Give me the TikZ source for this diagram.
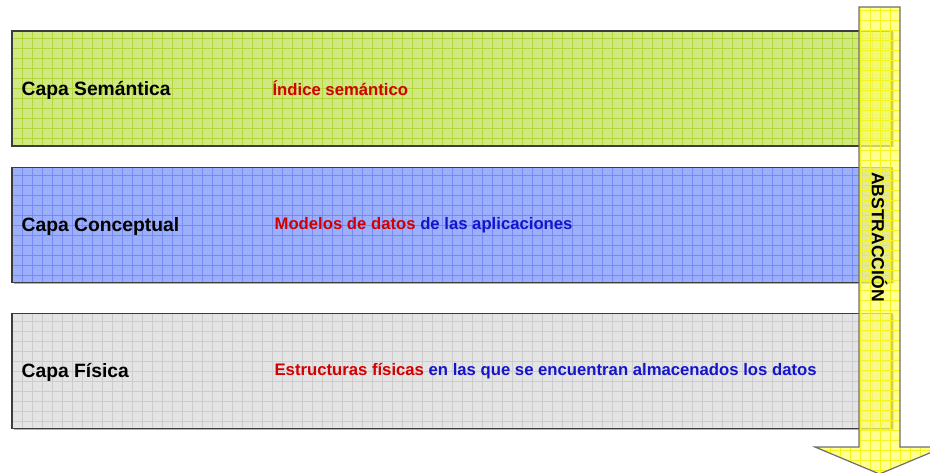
\documentclass[tikz,border=0pt]{standalone}
\usepackage{fontspec}
\setmainfont{Liberation Sans}
\usetikzlibrary{positioning,shadows}

\definecolor{verdefondo}{RGB}{208,232,130}
\definecolor{verdelinea}{RGB}{178,214,60}
\definecolor{azulfondo}{RGB}{155,175,250}
\definecolor{azullinea}{RGB}{118,138,242}
\definecolor{grisfondo}{RGB}{228,228,228}
\definecolor{grislinea}{RGB}{204,204,204}
\definecolor{amarillofondo}{RGB}{255,255,110}
\definecolor{amarillolinea}{RGB}{245,245,30}
\definecolor{rojotexto}{RGB}{210,0,0}
\definecolor{azultexto}{RGB}{20,20,205}

\tikzset{
  capa/.style={draw={rgb,255:red,60;green,60;blue,60}, line width=1.2pt,
    minimum width=880pt, minimum height=115pt, inner sep=0pt,
    drop shadow={shadow xshift=1.5pt, shadow yshift=-1.5pt, fill=gray!60, opacity=1}},
  rejilla/.style={path picture={
    \draw[line width=0.6pt, #1] (path picture bounding box.south west)
      grid[step=10pt] (path picture bounding box.north east);}},
  nombre/.style={font=\fontsize{19.3}{22}\selectfont\bfseries, inner sep=0pt, anchor=west},
  texto/.style={font=\fontsize{16.7}{20}\selectfont\bfseries, inner sep=0pt, anchor=west}
}

\begin{document}
\begin{tikzpicture}[x=1pt,y=-1pt]
    \useasboundingbox (0,0) rectangle (930,473);
    % capas
    \node[capa, fill=verdefondo, rejilla=verdelinea] (sem) at (452,88.5) {};
    \node[capa, fill=azulfondo, rejilla=azullinea] (con) at (452,225) {};
    \node[capa, fill=grisfondo, rejilla=grislinea] (fis) at (452,371) {};
    \node[nombre, right=10pt of sem.west, yshift=-1.5pt] (nsem) {Capa Semántica};
    \node[nombre, right=10pt of con.west, yshift=-1.5pt] (ncon) {Capa Conceptual};
    \node[nombre, right=10pt of fis.west, yshift=-1.5pt] (nfis) {Capa Física};
    \node[texto, right=261pt of sem.west] (tsem) {\color{rojotexto}Índice semántico};
    \node[texto, right=263pt of con.west] (tcon) {\color{rojotexto}Modelos de datos \color{azultexto}de las aplicaciones};
    \node[texto, right=263pt of fis.west] (tfis) {\color{rojotexto}Estructuras físicas \color{azultexto}en las que se encuentran almacenados los datos};
    % flecha de abstraccion
    \path[draw={rgb,255:red,110;green,110;blue,110}, line width=1.2pt, fill=amarillofondo, fill opacity=0.75,
        rejilla=amarillolinea]
        (859,7) -- (900,7) -- (900,447) -- (944,447) -- (879.5,474) -- (815,447) -- (859,447) -- cycle;
    \node[font=\fontsize{17.5}{20}\selectfont\bfseries, rotate=-90, inner sep=0pt] (abs) at (879.5,237) {ABSTRACCIÓN};
\end{tikzpicture}
\end{document}
